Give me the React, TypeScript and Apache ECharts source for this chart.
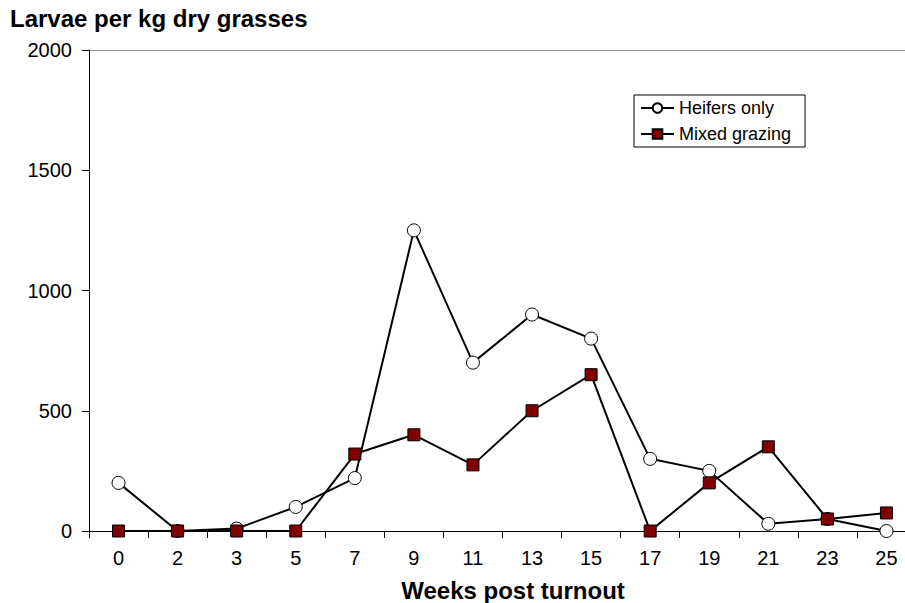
import React, { useEffect, useRef } from "react";
import * as echarts from "echarts";

const weeks = ["0", "2", "3", "5", "7", "9", "11", "13", "15", "17", "19", "21", "23", "25"];
const heifersOnly = [200, 0, 10, 100, 220, 1250, 700, 900, 800, 300, 250, 30, 50, 0];
const mixedGrazing = [0, 0, 0, 0, 320, 400, 275, 500, 650, 0, 200, 350, 50, 75];
const yTicks = { min: 0, max: 2000, interval: 500 };

export default function App() {
  const ref = useRef<HTMLDivElement>(null);
  useEffect(() => {
    if (!ref.current) return;
    const chart = echarts.init(ref.current, null, { renderer: "svg" });
    const font = "Liberation Sans, Arial, sans-serif";
    chart.setOption({
      animation: false,
      backgroundColor: "#ffffff",
      textStyle: { fontFamily: font },
      title: {
        text: "Larvae per kg dry grasses",
        left: 10,
        top: 6,
        padding: 0,
        textStyle: { fontFamily: font, fontSize: 24, fontWeight: "bold", color: "#000" },
      },
      legend: {
        orient: "vertical",
        left: 634,
        top: 95,
        padding: [4, 14, 4, 6],
        itemGap: 8,
        itemWidth: 33,
        itemHeight: 12,
        borderColor: "#000",
        borderWidth: 1,
        textStyle: { fontFamily: font, fontSize: 18, color: "#000" },
        data: ["Heifers only", "Mixed grazing"],
      },
      grid: { left: 89, top: 50, width: 827, height: 481, containLabel: false, outerBoundsMode: "none" },
      xAxis: {
        type: "category",
        data: weeks,
        boundaryGap: true,
        name: "Weeks post turnout",
        nameLocation: "middle",
        nameGap: 47,
        nameTextStyle: { fontFamily: font, fontSize: 24, fontWeight: "bold", color: "#000", padding: [0, 0, 0, 21] },
        axisLine: { lineStyle: { color: "#000", width: 1 } },
        axisTick: { show: true, inside: false, length: 7, lineStyle: { color: "#000" } },
        axisLabel: { fontFamily: font, fontSize: 20, color: "#000", margin: 17 },
        splitLine: { show: false },
      },
      yAxis: {
        type: "value",
        min: yTicks.min,
        max: yTicks.max,
        interval: yTicks.interval,
        axisLine: { show: true, lineStyle: { color: "#000", width: 1 } },
        axisTick: { show: true, length: 7, lineStyle: { color: "#000" } },
        axisLabel: { fontFamily: font, fontSize: 20, color: "#000", margin: 17, formatter: (v: number) => String(v) },
        splitLine: {
          show: true,
          lineStyle: { color: ["transparent", "transparent", "transparent", "transparent", "#999"], width: 1 },
        },
      },
      series: [
        {
          name: "Heifers only",
          type: "line",
          data: heifersOnly,
          symbol: "circle",
          symbolSize: 13,
          lineStyle: { color: "#000", width: 2 },
          itemStyle: { color: "#fff", borderColor: "#000", borderWidth: 1 },
          z: 2,
        },
        {
          name: "Mixed grazing",
          type: "line",
          data: mixedGrazing,
          symbol: "rect",
          symbolSize: 12,
          lineStyle: { color: "#000", width: 2 },
          itemStyle: { color: "#800000", borderColor: "#000", borderWidth: 1 },
          z: 3,
        },
      ],
    });
    return () => chart.dispose();
  }, []);
  return (
    <div style={{ width: 905, height: 603, position: "fixed", left: 0, top: 0, overflow: "hidden" }}>
      <div ref={ref} style={{ width: 905, height: 603, overflow: "hidden" }} />
    </div>
  );
}
